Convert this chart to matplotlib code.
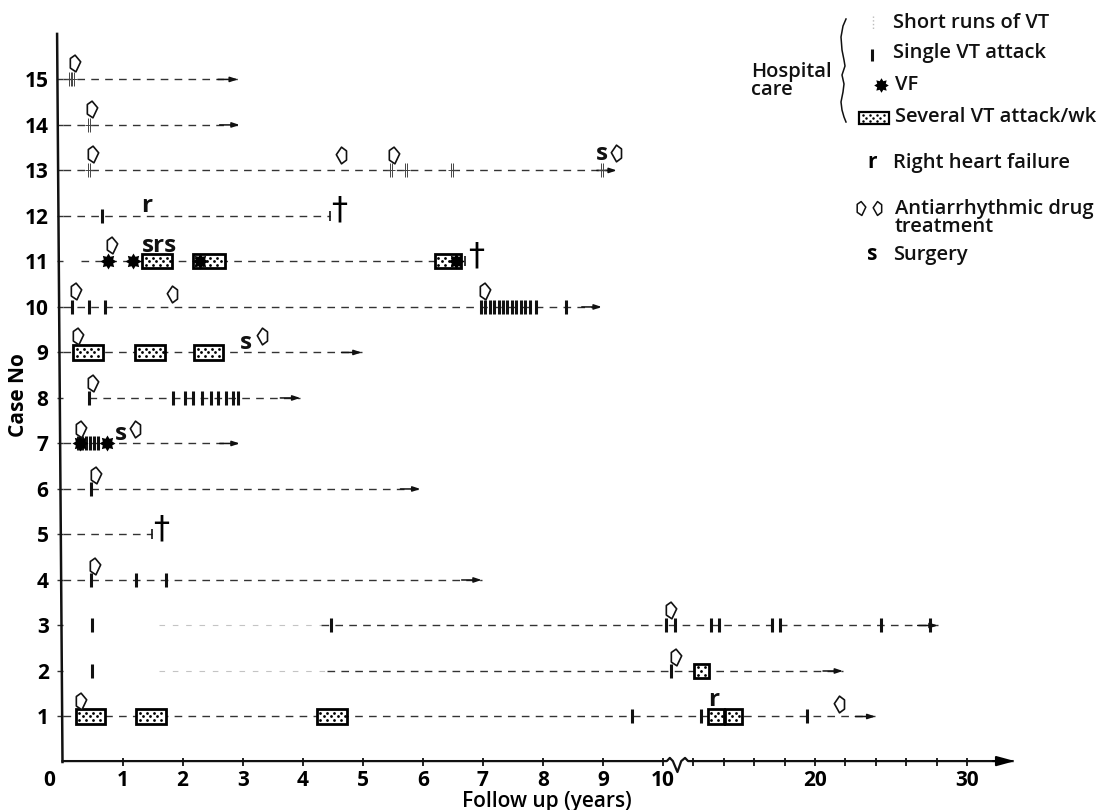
import numpy as np
import matplotlib
matplotlib.use('Agg')
import matplotlib.pyplot as plt
from matplotlib.lines import Line2D
from matplotlib.patches import Rectangle
from matplotlib.path import Path

# - - - - values, time in years - - -
cases = list(range(1, 16))
line_start = [0.0, 1.6, 1.6, 0.0, 0.0, 0.0, 0.0, 0.44, 0.0, 0.0, 0.3, 0.0, 0.0, 0.0, 0.0]
line_end = [23.97, 21.84, 28.07, 6.98, 1.49, 5.96, 2.95, 3.96, 4.98, 8.98, 6.71, 4.45, 9.23, 2.95, 2.92]
has_arrow = [1, 1, 1, 1, 0, 1, 1, 1, 1, 1, 0, 0, 1, 1, 1]
solid_from = [0.9, 4.4, 4.3]  # cases 2-3 are faint before this

single_vt = {
    1: [9.49, 12.52, 19.47],
    2: [0.49, 10.55],
    3: [0.49, 4.47, 10.2, 10.77, 13.16, 13.68, 17.17, 17.70, 24.34, 27.57],
    4: [0.48, 1.23, 1.73],
    6: [0.47],
    7: [0.26, 0.33, 0.39, 0.46, 0.52, 0.59],
    8: [0.44, 1.84, 2.04, 2.18, 2.32, 2.48, 2.59, 2.73, 2.84, 2.93],
    10: [0.15, 0.44, 0.71, 6.97, 7.04, 7.12, 7.19, 7.27, 7.34, 7.41, 7.48, 7.56,
         7.63, 7.71, 7.78, 7.88, 8.39],
    12: [0.65],
}
short_runs = {
    13: [0.44, 5.47, 5.72, 6.48, 8.99],
    14: [0.44],
    15: [0.12, 0.17],
}
vf = {7: [0.29, 0.74], 11: [0.75, 1.17, 2.29, 6.55]}
several_vt = {
    1: [(0.22, 0.71), (1.23, 1.72), (4.23, 4.73), (12.94, 14.01), (14.10, 15.18)],
    2: [(12.06, 13.05)],
    9: [(0.18, 0.67), (1.21, 1.71), (2.19, 2.68)],
    11: [(1.33, 1.83), (2.17, 2.70), (6.20, 6.64)],
}
drug_right = [(1, 0.31, 0.34), (2, 10.84, 0.31), (3, 10.53, 0.33), (4, 0.54, 0.31),
              (6, 0.55, 0.31), (7, 0.31, 0.31), (8, 0.50, 0.33), (9, 0.26, 0.37),
              (10, 0.22, 0.34), (10, 7.03, 0.35), (11, 0.82, 0.36), (13, 0.50, 0.36),
              (13, 5.52, 0.35), (14, 0.49, 0.35), (15, 0.21, 0.37)]
drug_left = [(1, 21.56, 0.28), (7, 1.21, 0.31), (9, 3.32, 0.37), (10, 1.83, 0.29),
             (13, 4.63, 0.34), (13, 9.21, 0.39)]
letters = [(1, 13.34, 0.36, 'r'), (12, 1.40, 0.22, 'r'), (11, 1.62, 0.35, 'srs'),
           (13, 8.98, 0.37, 's'), (9, 3.06, 0.20, 's'), (7, 0.97, 0.20, 's')]
deaths = [(5, 1.64), (11, 6.89), (12, 4.60)]

xticks = [1, 2, 3, 4, 5, 6, 7, 8, 9, 10, 12, 14, 16, 18, 20, 22, 24, 26, 28, 30]
xticklabels = ['1', '2', '3', '4', '5', '6', '7', '8', '9', '10', '', '', '', '', '20',
               '', '', '', '', '30']

legend_labels = ['Short runs of VT', 'Single VT attack', 'VF', 'Several VT attack/wk',
                 'Right heart failure', 'Antiarrhythmic drug\ntreatment', 'Surgery']

# - - - - parameters unlikely to be changed - - -
W, H = 1105, 810
font = ['Open Sans', 'DejaVu Sans']
ink = '#111111'
plt.rcParams['font.family'] = font

DRUG_R = Path([(-.62, -.55), (-.62, .6), (-.05, 1), (.62, .2), (.05, -1), (-.62, -.55)], closed=True)
DRUG_L = Path([(.6, -.55), (.6, .55), (0, 1), (-.62, .1), (0, -1), (.6, -.55)], closed=True)
DOUBLE = Path([(-.14, -1), (-.14, 1), (.14, -1), (.14, 1), (-.55, 0), (.55, 0)],
              [Path.MOVETO, Path.LINETO, Path.MOVETO, Path.LINETO, Path.MOVETO, Path.LINETO])
STAR = Path.unit_regular_star(8, innerCircle=0.64)


def forward(x):
    x = np.asarray(x, dtype=float)
    return np.where(x < 10, x*60.05, 600.5+(x-10)*15.2)


def inverse(p):
    p = np.asarray(p, dtype=float)
    return np.where(p < 600.5, p/60.05, 10+(p-600.5)/15.2)


def fx(x):
    return x/W


def fy(y):
    return 1-y/H


def dotOffsets(width, height):
    # staggered dot texture of a box, offsets in pixels from its lower left corner
    dots = []
    for r, yd in enumerate([height*0.24, height*0.5, height*0.76]):
        px = np.arange(3.5+(r % 2)*3.5, width-2, 7.0)
        dots += [(p, yd) for p in px]
    return dots


def drawCases(ax):
    for i, c in enumerate(cases):
        start, end = line_start[i], line_end[i]
        if c == 2 or c == 3:
            ax.plot([start, solid_from[c-1]], [c, c], color='#c4c4c4', lw=0.8,
                    dashes=(5, 7))
            start = solid_from[c-1]
        ax.plot([start, end], [c, c], color='#333333', lw=1.0, dashes=(5.5, 4.5))
        if has_arrow[i]:
            ax.annotate('', xy=(end, c), xytext=(inverse(forward(end)-20), c),
                        arrowprops=dict(arrowstyle='-|>,head_length=0.45,head_width=0.15',
                                        color=ink, lw=1.1, shrinkA=0, shrinkB=0))
        else:
            ax.plot([end], [c], marker='|', ms=7, mew=1.2, color=ink, clip_on=False)
    for c, vals in single_vt.items():
        ax.plot(vals, [c]*len(vals), ls='', marker='|', ms=9.5, mew=2.2, color=ink, zorder=3)
    for c, vals in short_runs.items():
        ax.plot(vals, [c]*len(vals), ls='', marker=DOUBLE, ms=10, mew=0.7, mfc='none',
                color='#444444', zorder=3)
    for c, spans in several_vt.items():
        for a, b in spans:
            ax.add_patch(Rectangle((a, c-0.155), b-a, 0.31, fc='white', ec='black', lw=2.0,
                                   zorder=3))
            wpx = float(forward(b)-forward(a))
            for xd, yd in dotOffsets(wpx, 14.1):
                ax.plot([inverse(forward(a)+xd)], [c-0.155+yd/45.5], marker='o', ms=2.0, mew=0,
                        color='black', zorder=3.5)
    for c, vals in vf.items():
        ax.plot(vals, [c]*len(vals), ls='', marker=STAR, ms=11.5, color='black', mew=0, zorder=4)
    for c, x, dy in drug_right:
        ax.plot([x], [c+dy], marker=DRUG_R, ms=12, mfc='white', mec=ink, mew=1.2, zorder=5)
    for c, x, dy in drug_left:
        ax.plot([x], [c+dy], marker=DRUG_L, ms=12, mfc='white', mec=ink, mew=1.2, zorder=5)
    for c, x, dy, s in letters:
        ax.text(x, c+dy, s, ha='center', va='center', fontsize=17.5, fontweight='bold',
                color=ink, zorder=6)
    for c, x in deaths:
        ax.text(x, c+0.13, '\u2020', ha='center', va='center', fontsize=23,
                family='DejaVu Sans', color='black', zorder=6)


def drawAxes(ax):
    for s in ax.spines.values():
        s.set_visible(False)
    # the scan sits slightly skewed, the y axis leans to the left
    ax.plot([0, -0.09], [0, 16], color=ink, lw=1.8, clip_on=False)
    # x axis with the squiggle where the scale changes
    ax.plot([0, 10.25, 10.45, 10.65, 10.95, 11.2, 11.45, 11.65, 33], [0.02, 0.02, 0.09, 0.02,
            -0.22, 0.02, 0.09, 0.02, 0.02], color=ink, lw=1.6, clip_on=False)
    ax.annotate('', xy=(33.15, 0.02), xytext=(31.7, 0.02), annotation_clip=False,
                arrowprops=dict(arrowstyle='-|>,head_length=1.1,head_width=0.3', color='black',
                                lw=1.4, shrinkA=0, shrinkB=0))
    ax.set_xticks(xticks)
    ax.set_xticklabels(xticklabels, fontsize=15, fontweight='bold')
    ax.tick_params(axis='x', direction='inout', length=6, width=1.3, pad=3, color=ink)
    ax.set_yticks(cases)
    ax.set_yticklabels(cases, fontsize=15, fontweight='bold')
    ax.tick_params(axis='y', length=4, width=1.0, pad=6, color='#333333')
    ax.annotate('0', xy=(0, 0), xytext=(-9.5, -6), textcoords='offset points', ha='center',
                va='top', fontsize=15, fontweight='bold', annotation_clip=False)
    ax.set_xlabel('Follow up (years)', fontsize=15, fontweight='semibold')
    ax.set_ylabel('Case No', fontsize=15, fontweight='bold', va='center')
    ax.xaxis.set_label_coords(0.5168, -0.0395)
    ax.yaxis.set_label_coords(-0.0464, 0.503)


def drawLegend(fig):
    def key(x, y, **kw):
        fig.add_artist(Line2D([fx(x)], [fy(y)], ls='', transform=fig.transFigure, **kw))

    def label(x, y, s, **kw):
        fig.text(fx(x), fy(y), s, va='center', fontsize=14.5, fontweight='semibold',
                 color=ink, linespacing=0.85, **kw)

    label(893, 23, legend_labels[0])
    label(893, 53, legend_labels[1])
    label(895, 85, legend_labels[2])
    label(895, 117, legend_labels[3])
    label(893, 163, legend_labels[4])
    label(895, 218, legend_labels[5])
    label(893, 255, legend_labels[6])
    label(751, 81, 'Hospital\ncare')

    fig.add_artist(Line2D([fx(873), fx(873)], [fy(16), fy(30)], color='#bbbbbb', lw=1.0,
                          ls=':', transform=fig.transFigure))
    key(872, 55, marker='|', ms=9, mew=2.2, color=ink)
    key(881, 85, marker=STAR, ms=10.5, mew=0, color='black')
    fig.add_artist(Rectangle((fx(859), fy(124)), 30/W, 12/H, transform=fig.transFigure,
                             fc='white', ec='black', lw=1.6))
    for xd, yd in dotOffsets(30, 12):
        key(859+xd, 124-yd, marker='o', ms=1.8, mew=0, color='black')
    key(861, 208, marker=DRUG_R, ms=10, mfc='white', mec=ink, mew=1.1)
    key(877, 208, marker=DRUG_L, ms=10, mfc='white', mec=ink, mew=1.1)
    fig.text(fx(872), fy(163), 'r', ha='center', va='center', fontsize=15, fontweight='bold')
    fig.text(fx(872), fy(255), 's', ha='center', va='center', fontsize=15, fontweight='bold')

    # long brace next to "Hospital care"
    bx = [846, 843, 841, 842, 844, 845, 842, 844, 843, 841, 842, 844, 846]
    by = [19, 26, 37, 50, 60, 66, 75, 84, 92, 102, 110, 117, 122]
    fig.add_artist(Line2D([fx(v) for v in bx], [fy(v) for v in by], color=ink, lw=1.1,
                          transform=fig.transFigure))


def main():
    fig = plt.figure(figsize=(W/100, H/100), dpi=100, facecolor='white')
    ax = fig.add_axes([fx(62.5), fy(762), (1000-62.5)/W, (762-33)/H])
    ax.set_xscale('function', functions=(forward, inverse))
    ax.set_xlim(0, float(inverse(937.5)))
    ax.set_ylim(0, 16.02)
    drawCases(ax)
    drawAxes(ax)
    drawLegend(fig)
    fig.savefig('out.png', dpi=100)


if __name__ == '__main__':
    main()
